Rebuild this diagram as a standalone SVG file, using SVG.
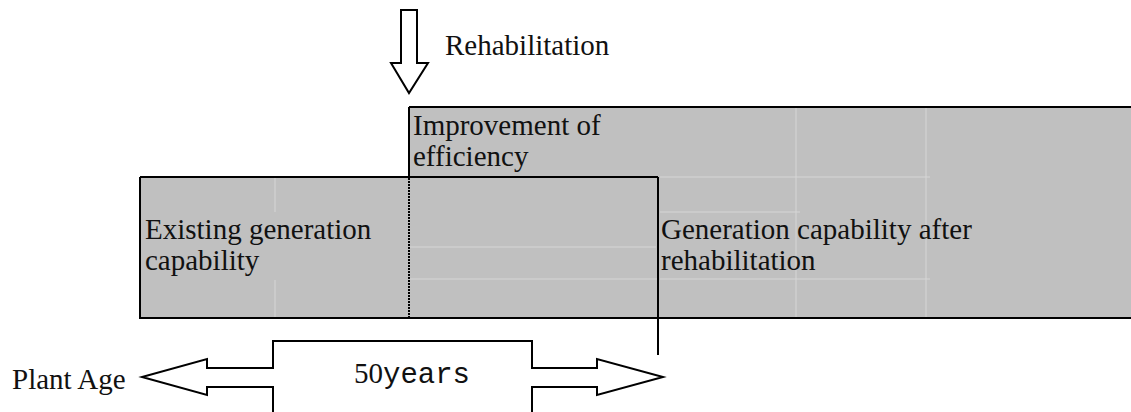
<svg xmlns="http://www.w3.org/2000/svg" width="1131" height="412" viewBox="0 0 1131 412">
  <style>
    .lbl { font-family: "Liberation Serif", "Times New Roman", serif; font-size: 29px; fill: #111; }
    .mono { font-family: "Liberation Mono", "Courier New", monospace; font-size: 29px; }
    .edge { stroke: #000; stroke-width: 2; fill: none; }
    .area { fill: #c0c0c0; stroke: none; }
    .seam { stroke: #d6d6d6; stroke-width: 1; fill: none; }
    .arrow { stroke: #000; stroke-width: 2; fill: #fff; stroke-linejoin: miter; }
  </style>

  <!-- generation capability blocks -->
  <g id="capability-after">
    <rect class="area" x="409" y="107" width="722" height="211"/>
  </g>
  <g id="existing-capability">
    <rect class="area" x="140" y="177" width="269" height="141"/>
  </g>

  <!-- faint cell seams inside the shaded areas -->
  <g id="seams">
    <path class="seam" d="M275 178V212M275 280V317M410 247H656M410 279H657M796 108V317M926 108V317M660 177H930M660 279H930M660 212H800"/>
  </g>

  <!-- block outlines -->
  <g id="outlines">
    <path class="edge" d="M409 107H1131M409 107V177M140 177H658M140 177V318M139 318H1131M658 177V355"/>
    <line x1="409" y1="178" x2="409" y2="318" stroke="#000" stroke-width="2" stroke-dasharray="2 1"/>
  </g>

  <!-- rehabilitation marker -->
  <g id="rehab-arrow">
    <polygon class="arrow" points="401,10 417,10 417,63 428,63 409,93 391,63 401,63"/>
    <text class="lbl" x="445" y="55">Rehabilitation</text>
  </g>

  <!-- plant age span -->
  <g id="connectors">
    <polyline class="arrow" points="273,412 273,387 207,387 207,395 142,377 207,359 207,368 273,368 273,341 532,341 532,368 597,368 597,359 663,377 597,395 597,387 532,387 532,412"/>
  </g>

  <g id="labels">
    <text class="lbl" x="413" y="135">Improvement of</text>
    <text class="lbl" x="413" y="166">efficiency</text>
    <text class="lbl" x="145" y="239">Existing generation</text>
    <text class="lbl" x="145" y="270">capability</text>
    <text class="lbl" x="661" y="239">Generation capability after</text>
    <text class="lbl" x="661" y="270">rehabilitation</text>
    <text class="lbl" x="12" y="389">Plant Age</text>
    <text x="354" y="383"><tspan class="lbl">50</tspan><tspan class="mono" fill="#111">years</tspan></text>
  </g>
</svg>
